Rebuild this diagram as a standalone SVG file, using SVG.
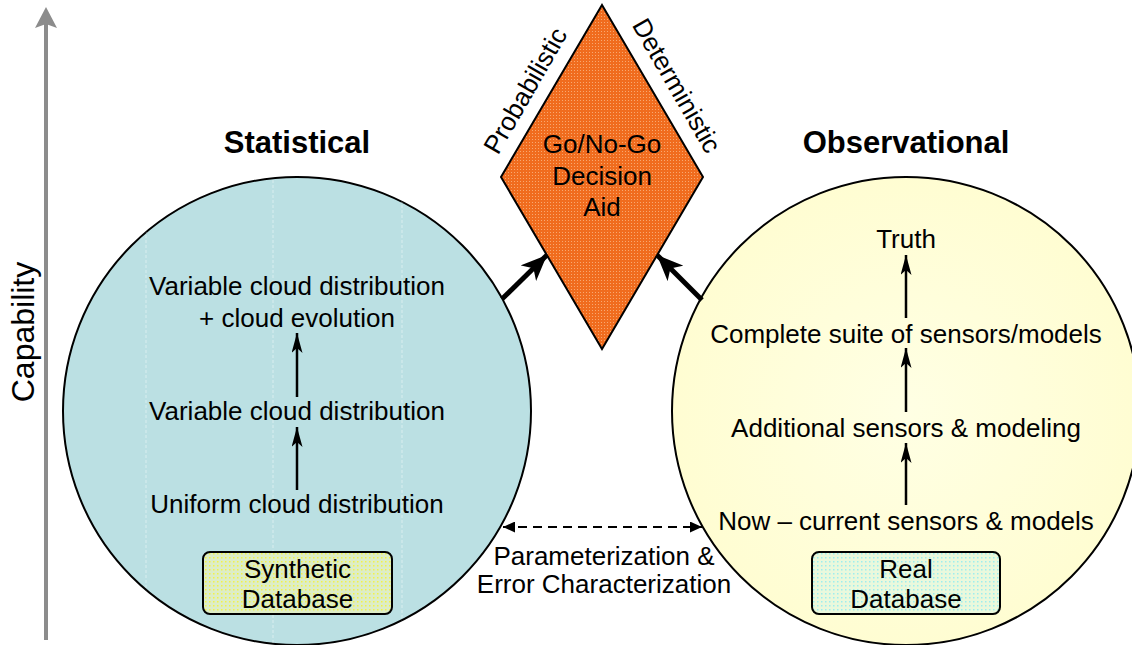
<svg xmlns="http://www.w3.org/2000/svg" width="1132" height="645" viewBox="0 0 1132 645">
  <style>
    text { font-family: "Liberation Sans", Arial, sans-serif; fill: #000; }
    .body { font-size: 26px; text-anchor: middle; }
    .title { font-size: 31px; font-weight: bold; text-anchor: middle; }
    .circle { stroke: #000; stroke-width: 2; }
    .thin { stroke: #000; stroke-width: 2.5; fill: none; marker-end: url(#thinHead); }
    .thick { stroke: #000; stroke-width: 5; fill: none; marker-end: url(#thickHead); }
    .db { stroke: #000; stroke-width: 2; }
  </style>
  <defs>
    <marker id="thinHead" viewBox="0 0 20 11" refX="20" refY="5.5" markerWidth="20" markerHeight="11" markerUnits="userSpaceOnUse" orient="auto">
      <path d="M0,0 L20,5.5 L0,11 L5,5.5 Z" fill="#000"/>
    </marker>
    <marker id="thickHead" viewBox="0 0 26 22" refX="26" refY="11" markerWidth="26" markerHeight="22" markerUnits="userSpaceOnUse" orient="auto">
      <path d="M0,0 L26,11 L0,22 L7,11 Z" fill="#000"/>
    </marker>
    <marker id="dashHead" viewBox="0 0 12 11" refX="12" refY="5.5" markerWidth="12" markerHeight="11" markerUnits="userSpaceOnUse" orient="auto-start-reverse">
      <path d="M0,0 L12,5.5 L0,11 Z" fill="#000"/>
    </marker>
    <pattern id="orangeDots" width="3" height="3" patternUnits="userSpaceOnUse">
      <rect width="3" height="3" fill="#F06C1E"/>
      <rect x="1" y="1" width="1" height="1" fill="#F8A870"/>
    </pattern>
    <pattern id="yellowDots" width="4" height="4" patternUnits="userSpaceOnUse">
      <rect width="4" height="4" fill="#DDEDC6"/>
      <rect x="1" y="1" width="1.5" height="1.5" fill="#F2F24A"/>
    </pattern>
    <pattern id="cyanDots" width="4" height="4" patternUnits="userSpaceOnUse">
      <rect width="4" height="4" fill="#EAF8DC"/>
      <rect x="1" y="1" width="1.5" height="1.5" fill="#9EEEEE"/>
    </pattern>
    <radialGradient id="obsFill" cx="0.5" cy="0.5" r="0.5">
      <stop offset="0" stop-color="#FFFFE4"/>
      <stop offset="1" stop-color="#FFFDD2"/>
    </radialGradient>
    <clipPath id="statClip">
      <circle cx="297" cy="411" r="234"/>
    </clipPath>
  </defs>

  <!-- capability axis -->
  <g id="capability-axis">
    <line x1="46" y1="640" x2="46" y2="22" stroke="#8C8C8C" stroke-width="4"/>
    <path d="M46,7 L57,28 L46,24 L35,28 Z" fill="#8C8C8C"/>
    <text x="34" y="332" font-size="32" text-anchor="middle" transform="rotate(-90 34 332)">Capability</text>
  </g>

  <!-- statistical side -->
  <g id="statistical">
    <text class="title" x="297" y="153">Statistical</text>
    <circle class="circle" cx="297" cy="411" r="234" fill="#BBE0E3"/>
    <g clip-path="url(#statClip)" stroke="#FFFFFF" stroke-opacity="0.45" stroke-width="1" stroke-dasharray="3 2">
      <line x1="146" y1="170" x2="146" y2="645"/>
      <line x1="273" y1="170" x2="273" y2="645"/>
      <line x1="402" y1="170" x2="402" y2="645"/>
    </g>
    <text class="body" x="297" y="295">Variable cloud distribution</text>
    <text class="body" x="297" y="327">+ cloud evolution</text>
    <text class="body" x="297" y="420">Variable cloud distribution</text>
    <text class="body" x="297" y="513">Uniform cloud distribution</text>
    <line class="thin" x1="297" y1="397" x2="297" y2="333"/>
    <line class="thin" x1="297" y1="490" x2="297" y2="427"/>
  </g>

  <g id="synthetic-database">
    <rect class="db" x="203" y="552" width="189" height="62" rx="7" fill="url(#yellowDots)"/>
    <text class="body" x="297.5" y="578" font-size="24">Synthetic</text>
    <text class="body" x="297.5" y="608" font-size="24">Database</text>
  </g>

  <!-- observational side -->
  <g id="observational">
    <text class="title" x="906" y="153">Observational</text>
    <circle class="circle" cx="906" cy="411" r="234" fill="url(#obsFill)"/>
    <text class="body" x="906" y="248">Truth</text>
    <text class="body" x="906" y="343">Complete suite of sensors/models</text>
    <text class="body" x="906" y="437">Additional sensors &amp; modeling</text>
    <text class="body" x="906" y="530">Now – current sensors &amp; models</text>
    <line class="thin" x1="906" y1="318" x2="906" y2="255"/>
    <line class="thin" x1="906" y1="412" x2="906" y2="348"/>
    <line class="thin" x1="906" y1="505" x2="906" y2="443"/>
  </g>

  <g id="real-database">
    <rect class="db" x="812" y="552" width="188" height="62" rx="7" fill="url(#cyanDots)"/>
    <text class="body" x="906" y="578" font-size="24">Real</text>
    <text class="body" x="906" y="608" font-size="24">Database</text>
  </g>

  <!-- decision aid -->
  <g id="decision-aid">
    <polygon points="602,5 703,177 602,349 501,177" fill="url(#orangeDots)" stroke="#000" stroke-width="2"/>
    <text class="body" x="602" y="153">Go/No-Go</text>
    <text class="body" x="602" y="185">Decision</text>
    <text class="body" x="602" y="216">Aid</text>
    <text class="body" x="533" y="95" transform="rotate(-60 533 95)">Probabilistic</text>
    <text class="body" x="669" y="90" transform="rotate(60 669 90)">Deterministic</text>
  </g>

  <!-- connectors -->
  <g id="connectors">
    <line class="thick" x1="502" y1="299" x2="547" y2="255"/>
    <line class="thick" x1="702" y1="300" x2="657" y2="255"/>
    <line x1="503" y1="527" x2="702" y2="527" stroke="#000" stroke-width="2.2" stroke-dasharray="9 6" marker-start="url(#dashHead)" marker-end="url(#dashHead)"/>
    <text class="body" x="604" y="565" font-size="25.5">Parameterization &amp;</text>
    <text class="body" x="604" y="593" font-size="25.5">Error Characterization</text>
  </g>
</svg>
